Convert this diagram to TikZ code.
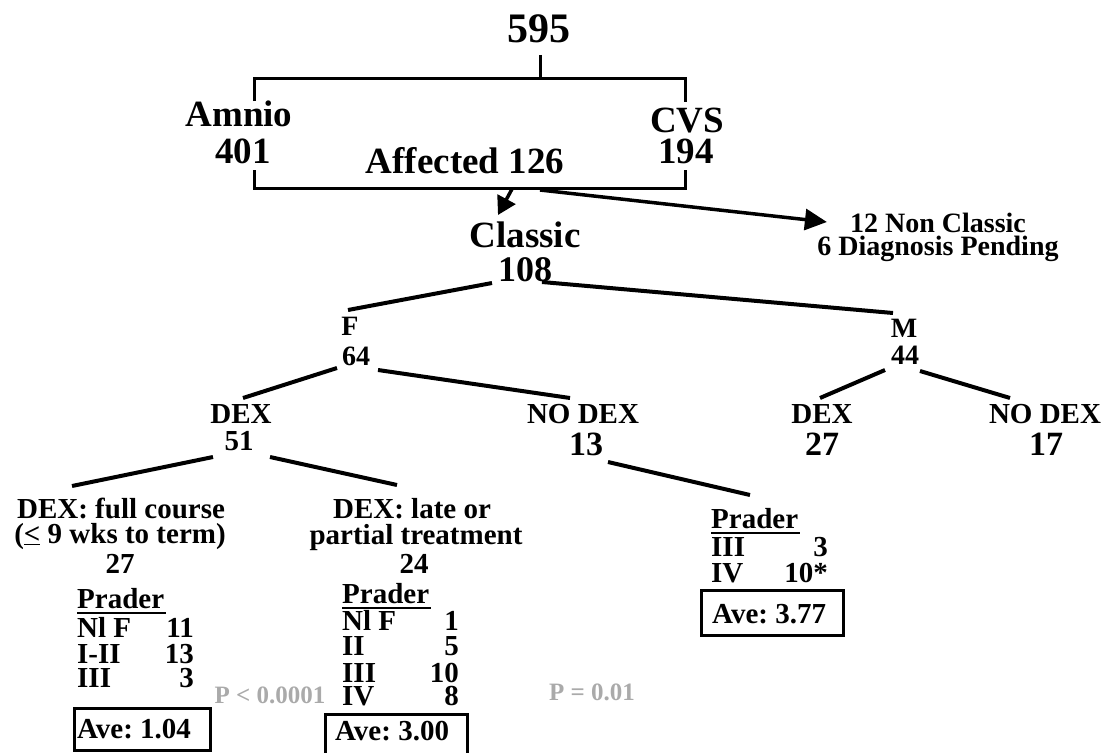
\documentclass[tikz,border=0pt]{standalone}
\usepackage{fontspec}
\setmainfont{Liberation Serif}
\usetikzlibrary{arrows.meta}
\definecolor{pgray}{RGB}{170,170,170}
\frenchspacing
\begin{document}
\begin{tikzpicture}[x=1pt,y=-1pt,
  t/.style={inner sep=0pt, anchor=base},
  s42/.style={t, font=\fontsize{42}{42}\selectfont\bfseries},
  s37/.style={t, font=\fontsize{37}{37}\selectfont\bfseries},
  s36/.style={t, font=\fontsize{36}{36}\selectfont\bfseries},
  s34/.style={t, font=\fontsize{34}{34}\selectfont\bfseries},
  s29/.style={t, font=\fontsize{29}{29}\selectfont\bfseries},
  s28/.style={t, font=\fontsize{28}{28}\selectfont\bfseries},
  rowl/.style={s29, anchor=base west},
  rown/.style={s29, anchor=base east},
  pval/.style={t, font=\fontsize{25}{25}\selectfont\bfseries, text=pgray},
  tree/.style={line width=4pt},
  brk/.style={line width=3pt},
  boxl/.style={line width=3pt},
  ul/.style={line width=2.5pt},
  arrL/.style={line width=3.5pt, -{Triangle[length=22pt,width=21pt]}},
  arrS/.style={line width=3.5pt, -{Triangle[length=18pt,width=20pt]}}
]
\useasboundingbox (0,0) rectangle (1113,752);

% top
\node[s42] (n595) at (539,43) {595};
\node[s37] (amnio) at (239,126) {Amnio};
\node[s37] (n401) at (243,163) {401};
\node[s37] (cvs) at (687,132) {CVS};
\node[s37] (n194) at (686,163) {194};
\node[s37] (aff) at (465,173) {Affected 126};

\coordinate (bTL) at (254,78);
\coordinate (bTR) at (685,78);
\coordinate (bBL) at (254,188);
\coordinate (bBR) at (685,188);
\coordinate (bTop) at (540,78);
\draw[brk] ([shift={(1,12)}]n595.base) -- (bTop);
\draw[brk] ([shift={(0,23)}]bTL) -- (bTL) -- (bTR) -- ([shift={(0,24)}]bTR);
\draw[brk] ([shift={(0,-18)}]bBL) -- (bBL) -- (bBR) -- ([shift={(0,-18)}]bBR);

\node[s37] (classic) at (525,247) {Classic};
\node[s36] (n108) at (525,281) {108};
\node[s28] (nonc) at (938,232) {12 Non Classic};
\node[s28] (pend) at (938,255) {6 Diagnosis Pending};

\coordinate (aS) at (512,189);
\coordinate (aL) at (540,190);
\draw[arrS] (aS) -- ([shift={(-27,-32)}]classic.base);
\draw[arrL] (aL) -- ([shift={(-23,-10)}]nonc.base west);

% level F / M
\node[s28] (F) at (350,335) {F};
\node[s28] (n64) at (356,365) {64};
\node[s28] (M) at (904,337) {M};
\node[s28] (n44) at (905,364) {44};

\draw[tree] ([shift={(-33,2)}]n108.base) -- ([shift={(-2,-25)}]F.base);
\draw[tree] ([shift={(17,1)}]n108.base) -- ([shift={(-11,-24)}]M.base);

% DEX level
\node[s29] (dexL) at (241,423) {DEX};
\node[s29] (n51) at (239,450) {51};
\node[s29] (nodexF) at (583,423) {NO DEX};
\node[s34] (n13) at (586,455) {13};
\node[s29] (dexM) at (822,423) {DEX};
\node[s34] (n27m) at (822,455) {27};
\node[s29] (nodexM) at (1045,423) {NO DEX};
\node[s34] (n17) at (1046,455) {17};

\draw[tree] ([shift={(-19,3)}]n64.base) -- ([shift={(2,-25)}]dexL.base);
\draw[tree] ([shift={(22,5)}]n64.base) -- ([shift={(-13,-25)}]nodexF.base);
\draw[tree] ([shift={(-20,6)}]n44.base) -- ([shift={(-2,-25)}]dexM.base);
\draw[tree] ([shift={(15,7)}]n44.base) -- ([shift={(-35,-25)}]nodexM.base);

% treatment level
\node[s29] (full1) at (121,518) {DEX: full course};
\node[s29] (full2) at (120,543) {(\underline{<}~9 wks to term)};
\node[s29] (full3) at (120,573) {27};
\node[s29] (late1) at (412,518) {DEX: late or};
\node[s29] (late2) at (416,544) {partial treatment};
\node[s29] (late3) at (414,573) {24};

\draw[tree] ([shift={(-26,7)}]n51.base) -- ([shift={(-49,-32)}]full1.base);
\draw[tree] ([shift={(31,7)}]n51.base) -- ([shift={(-15,-33)}]late1.base);

% left Prader table
\node[rowl] (prL) at (77,608) {Prader};
\draw[ul] ([shift={(0,5)}]prL.base west) -- ([shift={(2,5)}]prL.base east);
\node[rowl] (l1) at (77,637) {Nl F};
\node[rowl] (l2) at (77,663) {I-II};
\node[rowl] (l3) at (77,687) {III};
\node[rown] (l1n) at (194,637) {11};
\node[rown] (l2n) at (194,663) {13};
\node[rown] (l3n) at (194,687) {3};
\node[rowl] (aveL) at (77,738) {Ave: 1.04};
\draw[boxl] ([shift={(-3,-30)}]aveL.base west) rectangle ([shift={(19,12)}]aveL.base east);

% middle Prader table
\node[rowl] (prM) at (342,603) {Prader};
\draw[ul] ([shift={(0,5)}]prM.base west) -- ([shift={(2,5)}]prM.base east);
\node[rowl] (m1) at (342,630) {Nl F};
\node[rowl] (m2) at (342,655) {II};
\node[rowl] (m3) at (342,682) {III};
\node[rowl] (m4) at (342,705) {IV};
\node[rown] (m1n) at (459,630) {1};
\node[rown] (m2n) at (459,655) {5};
\node[rown] (m3n) at (459,682) {10};
\node[rown] (m4n) at (459,705) {8};
\node[rowl] (aveM) at (335,740) {Ave: 3.00};
\draw[boxl] ([shift={(-10,-26)}]aveM.base west) rectangle ([shift={(18,18)}]aveM.base east);

% right Prader table
\node[rowl] (prR) at (711,528) {Prader};
\draw[ul] ([shift={(0,5)}]prR.base west) -- ([shift={(2,5)}]prR.base east);
\node[rowl] (r1) at (711,556) {III};
\node[rowl] (r2) at (711,582) {IV};
\node[rown] (r1n) at (828,556) {3};
\node[rown] (r2n) at (828,582) {10*};
\node[rowl] (aveR) at (712,623) {Ave: 3.77};
\draw[boxl] ([shift={(-11,-33)}]aveR.base west) rectangle ([shift={(17,12)}]aveR.base east);
\draw[tree] ([shift={(22,7)}]n13.base) -- ([shift={(39,-33)}]prR.base west);

% p values
\node[pval] (pL) at (270,703) {P < 0.0001};
\node[pval] (pM) at (592,700) {P = 0.01};
\end{tikzpicture}
\end{document}
